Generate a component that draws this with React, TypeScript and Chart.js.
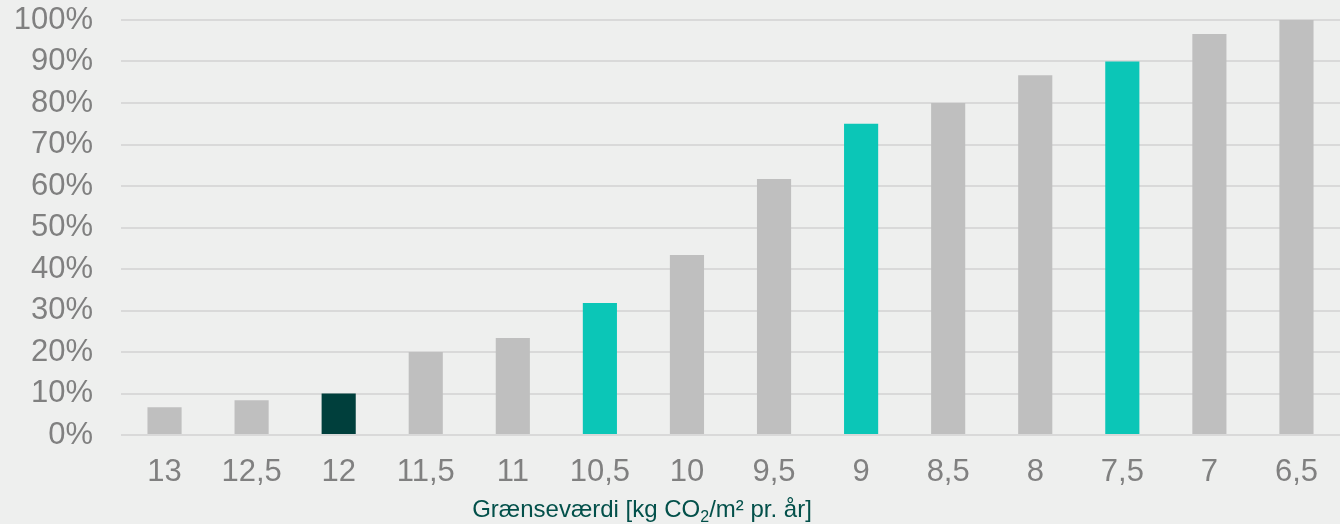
import React, { useEffect, useRef } from "react";
import { Chart, registerables } from "chart.js";

Chart.register(...registerables);

const categories = ["13", "12,5", "12", "11,5", "11", "10,5", "10", "9,5", "9", "8,5", "8", "7,5", "7", "6,5"];
const values = [6.7, 8.4, 10, 20, 23.4, 31.8, 43.4, 61.7, 75, 80, 86.7, 90, 96.6, 100];
const barColors = [
  "#bfbfbf", "#bfbfbf", "#003f3c", "#bfbfbf", "#bfbfbf", "#0bc6b7", "#bfbfbf",
  "#bfbfbf", "#0bc6b7", "#bfbfbf", "#bfbfbf", "#0bc6b7", "#bfbfbf", "#bfbfbf",
];
const titleParts = ["Grænseværdi [kg CO", "2", "/m² pr. år]"];

const xTitlePlugin = {
  id: "xTitle",
  afterDraw(chart: any) {
    const ctx = chart.ctx;
    const area = chart.chartArea;
    ctx.save();
    ctx.fillStyle = "#03504a";
    ctx.textBaseline = "alphabetic";
    ctx.textAlign = "left";
    const big = '24px "Liberation Sans", Arial, sans-serif';
    const small = '16px "Liberation Sans", Arial, sans-serif';
    ctx.font = big;
    const w1 = ctx.measureText(titleParts[0]).width;
    const w3 = ctx.measureText(titleParts[2]).width;
    ctx.font = small;
    const w2 = ctx.measureText(titleParts[1]).width;
    const total = w1 + w2 + w3;
    const cx = area.left + (area.right - area.left) * 0.4274;
    let x = cx - total / 2;
    const y = chart.height - 7;
    ctx.font = big;
    ctx.fillText(titleParts[0], x, y);
    x += w1;
    ctx.font = small;
    ctx.fillText(titleParts[1], x, y + 5);
    x += w2;
    ctx.font = big;
    ctx.fillText(titleParts[2], x, y);
    ctx.restore();
  },
};

export default function App() {
  const ref = useRef<HTMLCanvasElement | null>(null);
  useEffect(() => {
    if (!ref.current) return;
    const chart = new Chart(ref.current, {
      type: "bar",
      data: {
        labels: categories,
        datasets: [
          {
            data: values,
            backgroundColor: barColors,
            borderWidth: 0,
            categoryPercentage: 0.8,
            barPercentage: 0.49,
          },
        ],
      },
      options: {
        animation: false,
        responsive: true,
        maintainAspectRatio: false,
        layout: { padding: { left: 13, top: 20, right: 0, bottom: 33 } },
        plugins: { legend: { display: false }, tooltip: { enabled: false } },
        scales: {
          x: {
            grid: { display: false, drawTicks: false },
            border: { display: false },
            afterFit: (s: any) => { s.height = 56; s.paddingLeft = 0; s.paddingRight = 0; },
            ticks: {
              color: "#808080",
              padding: 19,
              font: { family: '"Liberation Sans", Arial, sans-serif', size: 31 },
              maxRotation: 0,
              autoSkip: false,
            },
          },
          y: {
            min: 0,
            max: 100,
            grid: { color: "#d9d9d9", lineWidth: 2, drawTicks: false },
            border: { display: false },
            afterFit: (s: any) => { s.width = 108; s.paddingTop = 0; s.paddingBottom = 0; },
            ticks: {
              stepSize: 10,
              autoSkip: false,
              color: "#808080",
              padding: 28,
              font: { family: '"Liberation Sans", Arial, sans-serif', size: 31 },
              callback: (v: any) => v + "%",
            },
          },
        },
      },
      plugins: [xTitlePlugin],
    });
    return () => chart.destroy();
  }, []);
  return (
    <div style={{ position: "absolute", left: 0, top: 0, width: 1340, height: 524, background: "#eeefee" }}>
      <canvas ref={ref} />
    </div>
  );
}
